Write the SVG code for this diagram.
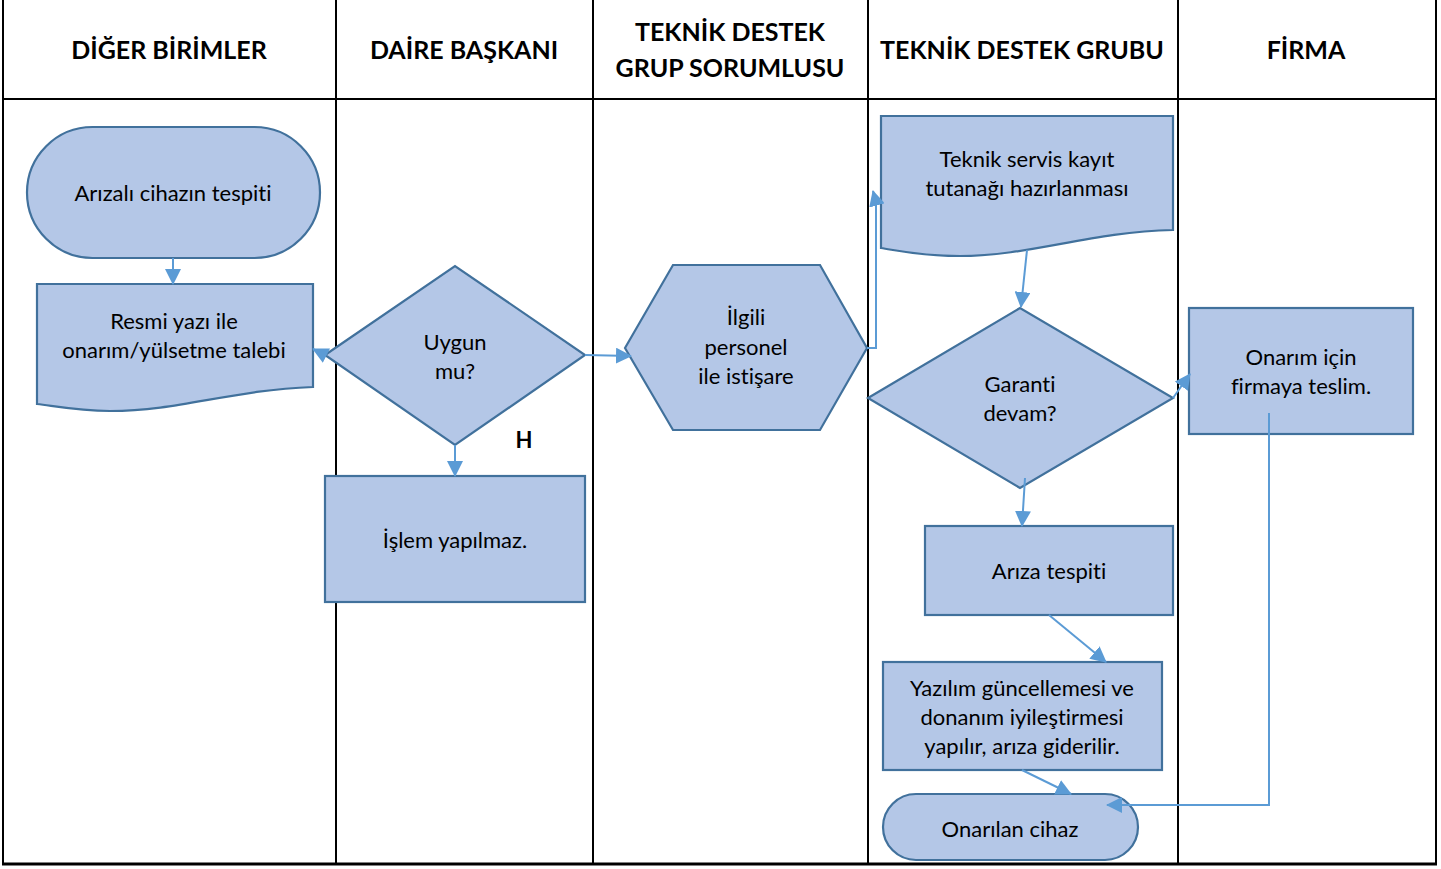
<svg xmlns="http://www.w3.org/2000/svg" width="1441" height="869" viewBox="0 0 1441 869">
  <defs>
    <marker id="arrow" viewBox="0 0 16 16" refX="15" refY="8" markerWidth="16" markerHeight="16" markerUnits="userSpaceOnUse" orient="auto">
      <path d="M0,0 L16,8 L0,16 Z" fill="#5B9BD5"/>
    </marker>
    <style>
      .grid { stroke: #000; stroke-width: 2; fill: none; }
      .head { font-family: Lato, "Liberation Sans", sans-serif; font-weight: bold; font-size: 25px; fill: #000; text-anchor: middle; font-variant-ligatures: none; }
      .shape { fill: #B4C7E7; stroke: #41719C; stroke-width: 2.2; }
      .label { font-family: Lato, "Liberation Sans", sans-serif; font-size: 22px; fill: #000; text-anchor: middle; font-variant-ligatures: none; }
      .conn { stroke: #5B9BD5; stroke-width: 2; fill: none; }
    </style>
  </defs>
  <rect x="0" y="0" width="1441" height="869" fill="#fff"/>

  <!-- swimlane table -->
  <g id="table">
    <line class="grid" x1="3" y1="0" x2="3" y2="865"/>
    <line class="grid" x1="336" y1="0" x2="336" y2="865"/>
    <line class="grid" x1="593" y1="0" x2="593" y2="865"/>
    <line class="grid" x1="868" y1="0" x2="868" y2="865"/>
    <line class="grid" x1="1178" y1="0" x2="1178" y2="865"/>
    <line class="grid" x1="1436" y1="0" x2="1436" y2="865"/>
    <line class="grid" x1="2" y1="99" x2="1437" y2="99"/>
    <line x1="2" y1="864" x2="1437" y2="864" stroke="#000" stroke-width="3"/>
    <text class="head" x="169" y="59">DİĞER BİRİMLER</text>
    <text class="head" x="464" y="59">DAİRE BAŞKANI</text>
    <text class="head" x="730" y="41">TEKNİK DESTEK</text>
    <text class="head" x="730" y="77">GRUP SORUMLUSU</text>
    <text class="head" x="1022" y="59">TEKNİK DESTEK GRUBU</text>
    <text class="head" x="1306" y="59">FİRMA</text>
  </g>

  <g id="n-arizali-cihaz">
    <rect class="shape" x="27" y="127" width="293" height="131" rx="65.5" ry="65.5"/>
    <text class="label" x="173" y="201">Arızalı cihazın tespiti</text>
  </g>

  <g id="n-resmi-yazi">
    <path class="shape" d="M37,284 H313 V387 C230,390 180,411 110,411 C80,411 60,407 37,404 Z"/>
    <text class="label" x="174" y="329">Resmi yazı ile</text>
    <text class="label" x="174" y="358">onarım/yülsetme talebi</text>
  </g>

  <g id="n-uygun-mu">
    <path class="shape" d="M325,355 L455,266 L585,355 L455,445 Z"/>
    <text class="label" x="455" y="350">Uygun</text>
    <text class="label" x="455" y="379">mu?</text>
  </g>

  <text x="524" y="448" font-family="Lato, 'Liberation Sans', sans-serif" font-weight="bold" font-size="22" text-anchor="middle">H</text>

  <g id="n-islem-yapilmaz">
    <rect class="shape" x="325" y="476" width="260" height="126"/>
    <text class="label" x="455" y="548">İşlem yapılmaz.</text>
  </g>

  <g id="n-istisare">
    <path class="shape" d="M625,348 L673,265 L820,265 L867,348 L820,430 L673,430 Z"/>
    <text class="label" x="746" y="325">İlgili</text>
    <text class="label" x="746" y="355">personel</text>
    <text class="label" x="746" y="384">ile istişare</text>
  </g>

  <g id="n-servis-kayit">
    <path class="shape" d="M881,116 H1173 V230 C1090,232 1030,256 960,256 C920,256 900,251 881,248 Z"/>
    <text class="label" x="1027" y="167">Teknik servis kayıt</text>
    <text class="label" x="1027" y="196">tutanağı hazırlanması</text>
  </g>

  <g id="n-garanti">
    <path class="shape" d="M868,398 L1020,308 L1173,398 L1020,488 Z"/>
    <text class="label" x="1020" y="392">Garanti</text>
    <text class="label" x="1020" y="421">devam?</text>
  </g>

  <g id="n-firma-teslim">
    <rect class="shape" x="1189" y="308" width="224" height="126"/>
    <text class="label" x="1301" y="365">Onarım için</text>
    <text class="label" x="1301" y="394">firmaya teslim.</text>
  </g>

  <g id="n-ariza-tespiti">
    <rect class="shape" x="925" y="526" width="248" height="89"/>
    <text class="label" x="1049" y="579">Arıza tespiti</text>
  </g>

  <g id="n-yazilim">
    <rect class="shape" x="883" y="662" width="279" height="108"/>
    <text class="label" x="1022" y="696">Yazılım güncellemesi ve</text>
    <text class="label" x="1022" y="725">donanım iyileştirmesi</text>
    <text class="label" x="1022" y="754">yapılır, arıza giderilir.</text>
  </g>

  <g id="n-onarilan">
    <rect class="shape" x="883" y="794" width="255" height="66" rx="33" ry="33"/>
    <text class="label" x="1010" y="837">Onarılan cihaz</text>
  </g>

  <!-- connectors drawn above the shapes -->
  <g id="connectors">
    <line class="conn" x1="173" y1="258" x2="173" y2="284" marker-end="url(#arrow)"/>
    <line class="conn" x1="325" y1="355" x2="313" y2="349" marker-end="url(#arrow)"/>
    <line class="conn" x1="455" y1="445" x2="455" y2="476" marker-end="url(#arrow)"/>
    <line class="conn" x1="585" y1="355" x2="631" y2="356" marker-end="url(#arrow)"/>
    <path class="conn" d="M867,348 H876 V202 L873,191" marker-end="url(#arrow)"/>
    <line class="conn" x1="1027" y1="250" x2="1021" y2="307" marker-end="url(#arrow)"/>
    <line class="conn" x1="1173" y1="398" x2="1190" y2="374" marker-end="url(#arrow)"/>
    <line class="conn" x1="1025" y1="478" x2="1022" y2="526" marker-end="url(#arrow)"/>
    <line class="conn" x1="1049" y1="615" x2="1106" y2="662" marker-end="url(#arrow)"/>
    <line class="conn" x1="1022" y1="770" x2="1071" y2="794" marker-end="url(#arrow)"/>
    <path class="conn" d="M1269,413 V805 H1107" marker-end="url(#arrow)"/>
  </g>
</svg>
